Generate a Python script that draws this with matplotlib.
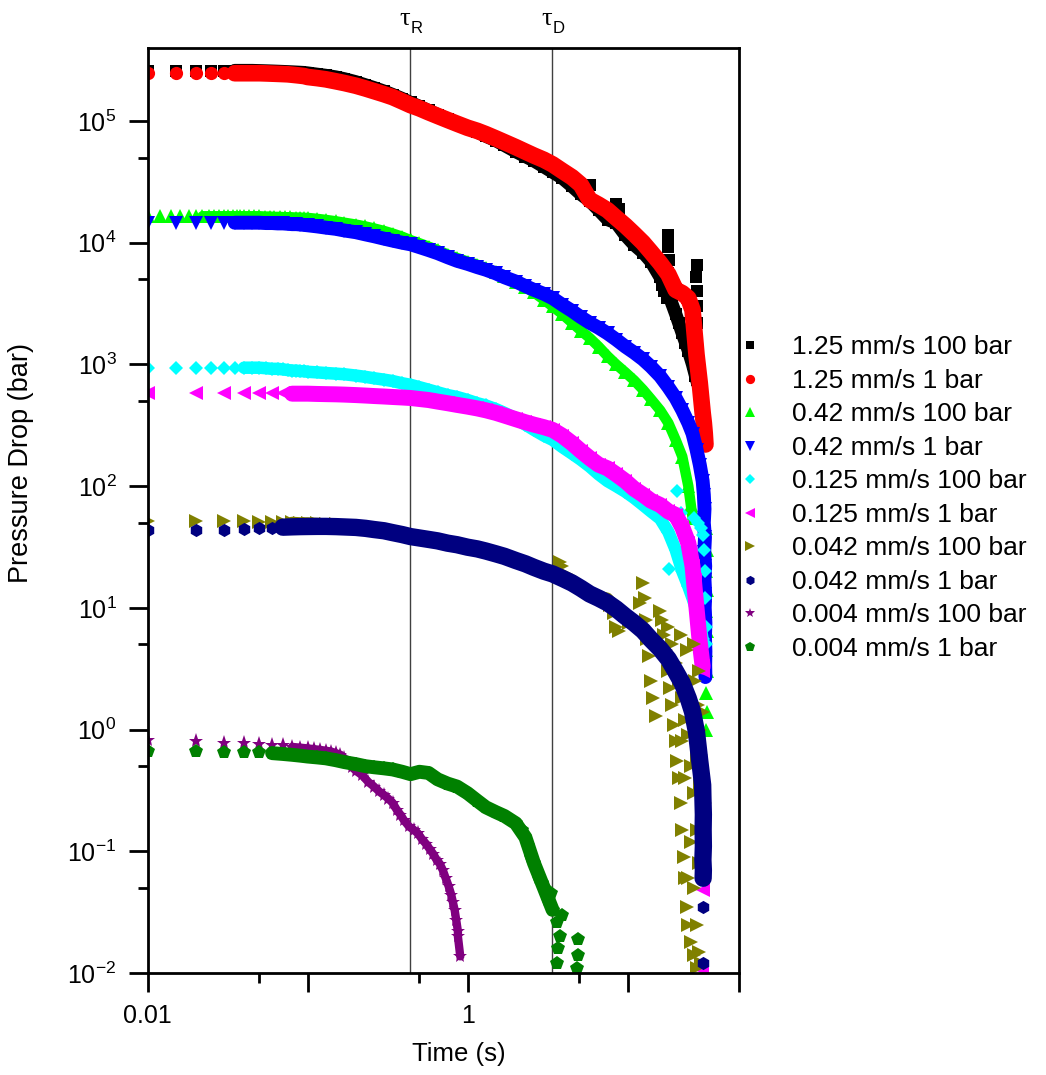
import matplotlib
matplotlib.use('Agg')
import matplotlib.pyplot as plt
from matplotlib.ticker import FixedLocator, FixedFormatter, LogFormatterSciNotation, NullFormatter

plt.rcParams['font.family'] = ['Liberation Sans', 'DejaVu Sans']
plt.rcParams['mathtext.fontset'] = 'custom'
plt.rcParams['mathtext.rm'] = 'Liberation Sans'
plt.rcParams['mathtext.it'] = 'Liberation Sans:italic'
plt.rcParams['mathtext.bf'] = 'Liberation Sans:bold'
plt.rcParams['axes.unicode_minus'] = False

# ---------------- data ----------------
E005 = [0.01, 0.015, 0.02, 0.025, 0.03, 0.035, 0.04, 0.045, 0.05, 0.055, 0.06, 0.065,
        0.07, 0.075, 0.08, 0.085, 0.09, 0.095]
E002 = [0.01, 0.012, 0.014, 0.016, 0.018, 0.02, 0.022, 0.024, 0.026, 0.028, 0.03, 0.032,
        0.034, 0.036, 0.038, 0.04, 0.043, 0.046, 0.05, 0.054, 0.058, 0.062, 0.067, 0.072,
        0.078, 0.084, 0.09, 0.095]
E01 = [0.01, 0.02, 0.03, 0.04, 0.05, 0.06, 0.07, 0.08, 0.09]
TR = [0.1, 0.115, 0.13, 0.15, 0.17, 0.2, 0.23, 0.26, 0.3, 0.34, 0.39, 0.44, 0.5, 0.57,
      0.65, 0.75, 0.86, 1.0, 1.15, 1.3, 1.5, 1.7, 2.0, 2.3, 2.6, 3.0, 3.4, 3.9, 4.5, 5.1,
      5.8, 6.6, 7.5, 8.5, 9.7, 11, 12.5, 14, 16, 18, 20, 22, 24, 25.5, 27, 28.3, 29.5]

tau_R = 0.437
tau_D = 3.36

# 1.25 mm/s 100 bar
p_black_early = [2.6e5, 2.6e5, 2.6e5, 2.6e5, 2.6e5, 2.6e5, 2.6e5, 2.6e5, 2.59e5, 2.58e5,
                 2.57e5, 2.56e5, 2.55e5, 2.54e5, 2.53e5, 2.52e5, 2.51e5, 2.5e5]
p_black_main = [2.48e5, 2.42e5, 2.37e5, 2.3e5, 2.22e5, 2.1e5, 1.98e5, 1.88e5, 1.76e5, 1.65e5,
                1.53e5, 1.42e5, 1.32e5, 1.22e5, 1.13e5, 1.04e5, 9.6e4, 8.7e4, 8.1e4, 7.5e4,
                6.9e4, 6.3e4, 5.6e4, 5.1e4, 4.7e4, 4.2e4, 3.8e4, 3.4e4, 2.9e4, 2.5e4,
                2.2e4, 1.85e4, 1.55e4, 1.45e4, 1.15e4, 9.6e3, 8.3e3, 7.0e3, 5.2e3, 3.8e3,
                2.6e3, 1.8e3, 1.3e3, 1.0e3, 7.5e2, 6.2e2, 4.3e2]
t_black_tail = [30.1, 30.6]
p_black_tail = [3.4e2, 2.6e2]
t_black_pts = [5.6, 5.8, 6.0, 8.2, 8.5, 8.8, 16.5, 17.0, 17.7, 17.8, 18.0, 18.1, 17.9, 18.2,
               19.0, 21.0, 23.0, 26.5, 26.9, 27.0, 27.1, 27.2, 27.0, 27.3]
p_black_pts = [2.4e4, 3.0e4, 2.2e4, 1.7e4, 2.1e4, 1.9e4, 4.5e3, 4.0e3, 3.5e3, 9.2e3, 1.15e4,
               7.2e3, 5.6e3, 4.3e3, 3.3e3, 2.2e3, 1.5e3, 8.0e2, 5.2e3, 6.5e3, 4.0e3, 3.0e3,
               2.2e3, 1.6e3]

# 1.25 mm/s 1 bar
p_red_early = [2.47e5, 2.47e5, 2.47e5, 2.47e5, 2.47e5, 2.47e5, 2.47e5, 2.47e5, 2.47e5,
               2.46e5, 2.45e5, 2.44e5, 2.43e5, 2.42e5, 2.4e5, 2.38e5, 2.36e5, 2.34e5]
p_red_main = [2.3e5, 2.25e5, 2.2e5, 2.12e5, 2.05e5, 1.95e5, 1.85e5, 1.76e5, 1.66e5, 1.57e5,
              1.45e5, 1.35e5, 1.27e5, 1.18e5, 1.1e5, 1.02e5, 9.5e4, 8.8e4, 8.3e4, 7.8e4,
              7.2e4, 6.7e4, 6.1e4, 5.6e4, 5.2e4, 4.8e4, 4.4e4, 3.9e4, 3.45e4, 3.0e4,
              2.25e4, 2.05e4, 1.85e4, 1.6e4, 1.38e4, 1.18e4, 1.0e4, 8.4e3, 6.8e3, 5.5e3,
              4.1e3, 3.85e3, 3.5e3, 2.8e3, 1.2e3, 7.0e2, 4.0e2]
t_red_tail = [30.0, 30.4, 30.7]
p_red_tail = [3.3e2, 2.7e2, 2.2e2]
t_red_pts = [26.2, 26.8, 27.5, 28.8]
p_red_pts = [2.1e3, 1.5e3, 1.0e3, 5.2e2]

# 0.42 mm/s 100 bar
p_green_early = [1.65e4, 1.65e4, 1.65e4, 1.65e4, 1.65e4, 1.65e4, 1.65e4, 1.65e4, 1.65e4,
                 1.65e4, 1.65e4, 1.65e4, 1.65e4, 1.65e4, 1.65e4, 1.65e4, 1.65e4, 1.65e4,
                 1.65e4, 1.64e4, 1.64e4, 1.63e4, 1.63e4, 1.62e4, 1.62e4, 1.61e4, 1.61e4, 1.6e4]
p_green_main = [1.6e4, 1.57e4, 1.54e4, 1.5e4, 1.46e4, 1.41e4, 1.36e4, 1.31e4, 1.25e4, 1.19e4,
                1.12e4, 1.05e4, 9.9e3, 9.3e3, 8.7e3, 8.0e3, 7.5e3, 7.0e3, 6.6e3, 6.2e3,
                5.7e3, 5.3e3, 4.8e3, 4.3e3, 3.9e3, 3.4e3, 3.0e3, 2.6e3, 2.2e3, 1.9e3,
                1.65e3, 1.4e3, 1.17e3, 1.0e3, 8.6e2, 7.4e2, 6.2e2, 5.2e2, 4.2e2, 3.3e2,
                2.4e2, 1.75e2, 1.0e2, 55]
t_green_pts = [25.0, 26.0, 30.8, 31.2, 30.9, 31.3, 31.0, 31.4, 31.1, 31.3, 31.0, 31.2, 31.1]
p_green_pts = [70, 60, 45, 30, 20, 14, 9.5, 6.5, 4.5, 3.0, 2.0, 1.4, 1.0]

# 0.42 mm/s 1 bar
p_blue_early = [1.46e4, 1.46e4, 1.46e4, 1.46e4, 1.46e4, 1.46e4, 1.46e4, 1.46e4, 1.46e4,
                1.45e4, 1.45e4, 1.44e4, 1.44e4, 1.43e4, 1.42e4, 1.42e4, 1.41e4, 1.40e4]
p_blue_main = [1.39e4, 1.36e4, 1.33e4, 1.3e4, 1.26e4, 1.22e4, 1.17e4, 1.13e4, 1.08e4, 1.04e4,
               1.0e4, 9.7e3, 9.2e3, 8.7e3, 8.2e3, 7.6e3, 7.1e3, 6.7e3, 6.3e3, 6.0e3,
               5.6e3, 5.2e3, 4.8e3, 4.4e3, 4.1e3, 3.8e3, 3.5e3, 3.1e3, 2.75e3, 2.45e3,
               2.2e3, 2.0e3, 1.8e3, 1.6e3, 1.4e3, 1.25e3, 1.1e3, 9.6e2, 8.0e2, 6.5e2,
               5.3e2, 4.2e2, 3.3e2, 2.7e2, 2.0e2, 1.5e2, 1.1e2]
t_blue_tail = [30.0, 30.3, 30.0, 30.5, 30.2, 30.6, 30.3, 30.6, 30.4, 30.7, 30.5, 30.7, 30.6, 30.7]
p_blue_tail = [85, 65, 50, 38, 29, 22, 17, 13, 10, 7.5, 5.8, 4.4, 3.4, 2.7]

# 0.125 mm/s 100 bar
p_cyan_early = [9.4e2, 9.4e2, 9.4e2, 9.4e2, 9.4e2, 9.4e2, 9.4e2, 9.4e2, 9.4e2, 9.3e2,
                9.2e2, 9.2e2, 9.1e2, 9.0e2, 8.9e2, 8.9e2, 8.8e2, 8.8e2]
p_cyan_main = [8.7e2, 8.6e2, 8.5e2, 8.4e2, 8.3e2, 8.1e2, 7.9e2, 7.7e2, 7.5e2, 7.3e2,
               7.0e2, 6.8e2, 6.5e2, 6.2e2, 5.9e2, 5.6e2, 5.4e2, 5.1e2, 4.8e2, 4.6e2,
               4.3e2, 4.0e2, 3.6e2, 3.2e2, 2.9e2, 2.6e2, 2.4e2, 2.1e2, 1.85e2, 1.65e2,
               1.45e2, 1.25e2, 1.1e2, 1.0e2, 90, 80, 70, 62, 54, 42,
               30, 20, 15, 12, 9.5, 7.5, 5.5]
t_cyan_pts = [20.5, 18.3, 21.5, 22.5, 26.0, 27.5, 28.8, 29.5, 30.2, 30.5, 30.7, 30.8, 30.9]
p_cyan_pts = [92, 21, 60, 40, 55, 50, 45, 40, 30, 20, 12, 7, 5]

# 0.125 mm/s 1 bar
p_mag_early = [5.8e2, 5.8e2, 5.8e2, 5.8e2, 5.8e2, 5.8e2, 5.8e2, 5.75e2, 5.75e2]
p_mag_main = [5.75e2, 5.72e2, 5.7e2, 5.68e2, 5.65e2, 5.6e2, 5.55e2, 5.5e2, 5.45e2, 5.4e2,
              5.35e2, 5.3e2, 5.2e2, 5.1e2, 4.95e2, 4.8e2, 4.65e2, 4.5e2, 4.35e2, 4.2e2,
              4.0e2, 3.8e2, 3.55e2, 3.35e2, 3.2e2, 3.05e2, 2.9e2, 2.6e2, 2.25e2, 1.95e2,
              1.7e2, 1.5e2, 1.4e2, 1.25e2, 1.1e2, 95, 85, 76, 70, 62,
              58, 46, 34, 22, 10, 5.2, 3.3]
t_mag_pts = [26.3, 27.7, 28.9, 29.7, 29.6, 29.3]
p_mag_pts = [17, 7.5, 4.2, 3.0, 0.048, 0.0105]

# 0.042 mm/s 100 bar
p_olive_early = [52, 52, 52, 51.5, 51, 51, 50.5, 50.5, 50]
p_olive_main = [50, 49.5, 49, 48.5, 48, 47, 46, 45, 44, 42.5,
                41, 39.5, 38, 37, 36, 34.5, 33.5, 32, 31, 30,
                28, 27, 25, 23.5, 22, 21, 19.5, 18.5, 17, 15,
                13.5, 12.5, 12, 10, 8.8, 7.8, 16, 2.5, 9.5, 3,
                0.8, 0.15, 0.025, 1.5, 0.6, 0.35, 0.2]
t_olive_pts = [3.9, 3.8, 4.1, 7.2, 7.8, 8.2, 8.5, 8.8, 10.2, 12.0, 12.8, 13.0, 13.3, 13.6,
               14.5, 15.0, 15.5, 16.5, 17.0, 17.5, 18.5, 19.0, 19.5, 20.5, 21.0, 21.5, 22.5,
               23.0, 23.5, 25.0, 26.0, 27.0, 20.0, 21.0, 22.0, 23.0, 24.0, 25.0, 26.0, 27.0,
               28.0, 26.5, 27.5, 28.5, 29.0, 30.0, 30.5, 19.0, 18.0, 24.0, 23.0, 22.0, 25.0,
               26.0, 27.0, 28.0, 29.0, 21.5, 23.5, 26.0, 28.0, 29.5]
p_olive_pts = [22, 24, 19, 12, 10.5, 9, 7, 6.5, 7.5, 11, 12, 8, 5.5, 4,
               1.8, 1.3, 5, 8, 6, 4.5, 2.2, 1.6, 1.1, 0.55, 0.4, 0.25, 0.09,
               0.06, 0.035, 0.018, 0.014, 0.011, 3.5, 2.5, 1.8, 1.2, 0.9, 0.5, 0.3, 0.15,
               0.08, 2.5, 1.6, 1.0, 0.5, 0.3, 0.25, 5, 7, 0.06, 0.4, 0.8, 0.12,
               0.05, 0.025, 0.015, 0.012, 6, 4.5, 5, 3, 1.4]

# 0.042 mm/s 1 bar
p_navy_early = [43.4, 43.5, 44.0, 44.5, 45.0, 45.5, 46.0, 46.3, 46.5]
p_navy_main = [46.6, 46.7, 46.7, 46.5, 46.2, 45.8, 45.0, 44.0, 43.0, 41.5,
               40.0, 38.5, 37.5, 36.5, 35.5, 34.0, 33.0, 31.5, 30.5, 29.3,
               27.8, 26.5, 24.5, 23.0, 21.5, 20.0, 19.0, 17.5, 16.0, 14.5,
               13.0, 12.0, 11.0, 9.8, 8.5, 7.5, 6.5, 5.5, 4.6, 3.8,
               3.0, 2.4, 1.8, 1.4, 0.95, 0.55, 0.35]
t_navy_tail = [29.6, 29.8, 29.7, 29.8, 29.6, 29.8, 29.7]
p_navy_tail = [0.28, 0.2, 0.15, 0.11, 0.085, 0.07, 0.06]
t_navy_pts = [27.6, 28.6, 29.7, 29.8]
p_navy_pts = [0.8, 0.6, 0.035, 0.012]

# 0.004 mm/s 100 bar
t_purple = [0.01, 0.02, 0.03, 0.04, 0.05, 0.06, 0.07, 0.08, 0.09, 0.1,
            0.11, 0.12, 0.13, 0.14, 0.15, 0.16, 0.17, 0.18, 0.19, 0.2,
            0.22, 0.24, 0.26, 0.28, 0.3, 0.32, 0.34, 0.36, 0.38, 0.4,
            0.43, 0.46, 0.49, 0.52, 0.55, 0.58, 0.61, 0.64, 0.67, 0.7,
            0.73, 0.76, 0.79, 0.81, 0.83, 0.85, 0.87, 0.87, 0.9]
p_purple = [0.82, 0.80, 0.78, 0.77, 0.76, 0.75, 0.74, 0.72, 0.71, 0.70,
            0.69, 0.68, 0.67, 0.66, 0.64, 0.62, 0.58, 0.53, 0.49, 0.46,
            0.42, 0.37, 0.34, 0.31, 0.29, 0.27, 0.25, 0.22, 0.2, 0.18,
            0.16, 0.15, 0.14, 0.125, 0.115, 0.104, 0.095, 0.085, 0.079, 0.07,
            0.06, 0.052, 0.044, 0.038, 0.033, 0.027, 0.022, 0.02, 0.0137]

# 0.004 mm/s 1 bar
p_pent_early = [0.665, 0.665, 0.66, 0.66, 0.65, 0.64, 0.63, 0.62, 0.61]
p_pent_main = [0.6, 0.59, 0.58, 0.56, 0.54, 0.52, 0.50, 0.49, 0.48, 0.47,
               0.45, 0.43, 0.45, 0.44, 0.39, 0.36, 0.34, 0.30, 0.26, 0.23,
               0.21, 0.195, 0.17, 0.13, 0.08, 0.05, 0.033]
t_pent_pts = [2.2, 2.4, 2.8, 3.2, 3.6, 3.8, 3.7, 3.6, 3.9, 3.3, 4.9, 4.9, 4.85, 2.5, 2.9]
p_pent_pts = [0.15, 0.11, 0.06, 0.04, 0.026, 0.02, 0.016, 0.012, 0.03, 0.045, 0.019,
              0.014, 0.011, 0.09, 0.055]

labels = ['1.25 mm/s 100 bar', '1.25 mm/s 1 bar', '0.42 mm/s 100 bar', '0.42 mm/s 1 bar',
          '0.125 mm/s 100 bar', '0.125 mm/s 1 bar', '0.042 mm/s 100 bar', '0.042 mm/s 1 bar',
          '0.004 mm/s 100 bar', '0.004 mm/s 1 bar']
colors = ['#000000', '#FF0000', '#00FF00', '#0000FF', '#00FFFF', '#FF00FF', '#808000',
          '#000080', '#800080', '#008000']
markers = ['s', 'o', '^', 'v', 'D', '<', '>', 'h', '*', 'p']

# each entry: (band times, band values, first index of merged band, end index, extra times, extra values)
series = [
    (E005 + TR + t_black_tail, p_black_early + p_black_main + p_black_tail, 5, None, t_black_pts, p_black_pts),
    (E005 + TR + t_red_tail, p_red_early + p_red_main + p_red_tail, 5, None, t_red_pts, p_red_pts),
    (E002 + TR[:44], p_green_early + p_green_main, 6, None, t_green_pts, p_green_pts),
    (E005 + TR + t_blue_tail, p_blue_early + p_blue_main + p_blue_tail, 5, None, [], []),
    (E005 + TR, p_cyan_early + p_cyan_main, 6, None, t_cyan_pts, p_cyan_pts),
    (E01 + TR, p_mag_early + p_mag_main, 7, None, t_mag_pts, p_mag_pts),
    (E01 + TR, p_olive_early + p_olive_main, 7, 9 + 36, t_olive_pts, p_olive_pts),
    (E01 + TR + t_navy_tail, p_navy_early + p_navy_main + p_navy_tail, 6, None, t_navy_pts, p_navy_pts),
    (t_purple, p_purple, 7, None, [], []),
    (E01 + TR[:27], p_pent_early + p_pent_main, 5, None, t_pent_pts, p_pent_pts),
]
marker_sizes = [8, 9.5, 10, 10, 7.5, 10, 10, 9.5, 11, 10.5]
band_widths = [9.5, 12, 7.5, 10, 9, 11.5, 8, 12.5, 6, 10]

# ---------------- figure ----------------
fig = plt.figure(figsize=(10.46, 10.75), dpi=100)
ax = fig.add_axes([0.1412, 0.0949, 0.5656, 0.8607])

ax.axvline(tau_R, color='#404040', lw=1.0, zorder=1)
ax.axvline(tau_D, color='#404040', lw=1.0, zorder=1)

for (t, p, i0, i1, tx, px), lab, c, m, ms, bw in zip(series, labels, colors, markers,
                                                      marker_sizes, band_widths):
    ax.plot(t[i0:i1], p[i0:i1], '-', color=c, lw=bw, solid_capstyle='round',
            solid_joinstyle='round', zorder=2)
    ax.plot(t + tx, p + px, linestyle='none', marker=m, color=c, markersize=ms,
            markeredgewidth=0, label=lab, zorder=2)

ax.set_xscale('log')
ax.set_yscale('log')
ax.set_xlim(0.01, 50)
ax.set_ylim(1e-2, 4e5)

ax.xaxis.set_major_locator(FixedLocator([0.01, 0.1, 1, 10, 50]))
ax.xaxis.set_major_formatter(FixedFormatter(['0.01', '', '1', '', '']))
ax.xaxis.set_minor_locator(FixedLocator([0.05, 0.5, 5]))
ax.xaxis.set_minor_formatter(NullFormatter())

ax.yaxis.set_major_locator(FixedLocator([1e-2, 1e-1, 1, 10, 1e2, 1e3, 1e4, 1e5]))
ax.yaxis.set_major_formatter(LogFormatterSciNotation())
ax.yaxis.set_minor_locator(FixedLocator([5e-2, 5e-1, 5, 50, 5e2, 5e3, 5e4]))
ax.yaxis.set_minor_formatter(NullFormatter())

ax.tick_params(which='major', direction='out', length=14, width=2, labelsize=18, pad=8.5,
               top=False, right=False)
ax.tick_params(which='minor', direction='out', length=7, width=2, top=False, right=False)
for s in ax.spines.values():
    s.set_linewidth(2)

ax.set_xlabel('Time (s)', fontsize=18.5)
ax.set_ylabel('Pressure Drop (bar)', fontsize=19.5)
ax.xaxis.set_label_coords(0.526, -0.075)
ax.yaxis.set_label_coords(-0.192, 0.551)

# tau labels above the plot
for tv, sub in [(tau_R, 'R'), (tau_D, 'D')]:
    ax.annotate('\u03c4', xy=(tv, 1), xycoords=('data', 'axes fraction'),
                xytext=(-5, 29), textcoords='offset pixels', ha='center', va='center',
                fontsize=19, family=['Liberation Serif', 'DejaVu Serif'])
    ax.annotate(sub, xy=(tv, 1), xycoords=('data', 'axes fraction'),
                xytext=(7, 19), textcoords='offset pixels', ha='center', va='center',
                fontsize=12)

leg = ax.legend(loc='upper left', bbox_to_anchor=(1.0, 0.689), frameon=False, fontsize=19,
                markerscale=0.7, handlelength=0.8, handletextpad=1.2, labelspacing=0.36,
                borderpad=0, borderaxespad=0)

fig.savefig('out.png', dpi=100)
